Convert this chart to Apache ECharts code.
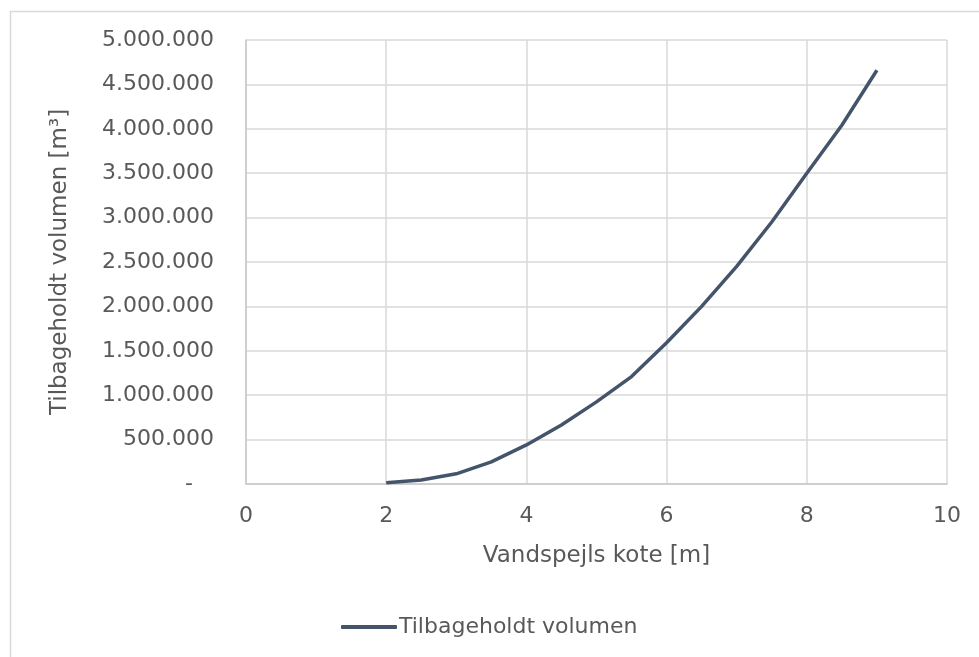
<!DOCTYPE html>
<html>
<head>
<meta charset="utf-8">
<script src="https://cdn.jsdelivr.net/npm/echarts@6/dist/echarts.min.js"></script>
<style>
html,body{margin:0;padding:0;background:#fff;}
#chart{width:979px;height:657px;}
</style>
</head>
<body>
<div id="chart"></div>
<script>
// Data
const koter = [2, 2.5, 3, 3.5, 4, 4.5, 5, 5.5, 6, 6.5, 7, 7.5, 8, 8.5, 9];
const volumen = [15000, 45000, 115000, 250000, 440000, 665000, 925000, 1210000, 1590000, 2000000, 2450000, 2950000, 3500000, 4040000, 4660000];
const seriesName = 'Tilbageholdt volumen';
const xAxisTitle = 'Vandspejls kote [m]';
const yAxisTitle = 'Tilbageholdt volumen [m³]';

function fmtDK(v) {
  if (v === 0) return '-   ';
  return String(Math.round(v)).replace(/\B(?=(\d{3})+(?!\d))/g, '.');
}

const FONT = 'DejaVu Sans';
const TXT = '#595959';

const chart = echarts.init(document.getElementById('chart'), null, {renderer: 'canvas'});
chart.setOption({
  animation: false,
  backgroundColor: '#ffffff',
  textStyle: {fontFamily: FONT},
  graphic: [{
    type: 'rect', left: 8, top: 9, silent: true,
    shape: {width: 1100, height: 800},
    style: {fill: 'none', stroke: '#d9d9d9', lineWidth: 1.5}
  }],
  grid: {left: 246, right: 32, top: 40, bottom: 173, containLabel: false},
  xAxis: {
    type: 'value', min: 0, max: 10, interval: 2,
    name: xAxisTitle, nameLocation: 'middle', nameGap: 61,
    nameTextStyle: {color: TXT, fontSize: 23, fontFamily: FONT},
    axisLine: {show: true, lineStyle: {color: '#c8c8c8', width: 1.5}},
    axisTick: {show: false},
    axisLabel: {color: TXT, fontSize: 22, fontFamily: FONT, margin: 21},
    splitLine: {show: true, lineStyle: {color: '#d9d9d9', width: 1.5}}
  },
  yAxis: {
    type: 'value', min: 0, max: 5000000, interval: 500000,
    name: yAxisTitle, nameLocation: 'middle', nameGap: 174, nameRotate: 90,
    nameTextStyle: {color: TXT, fontSize: 23, fontFamily: FONT},
    axisLine: {show: true, lineStyle: {color: '#c8c8c8', width: 1.5}},
    axisTick: {show: false},
    axisLabel: {color: TXT, fontSize: 22, fontFamily: FONT, margin: 32, formatter: fmtDK},
    splitLine: {show: true, lineStyle: {color: '#d9d9d9', width: 1.5}}
  },
  legend: {
    show: true, left: 336, top: 611,
    itemWidth: 56, itemHeight: 4, itemGap: 10,
    textStyle: {color: TXT, fontSize: 22, fontFamily: FONT, padding: [0,0,0,-3]},
    data: [{name: seriesName, icon: 'roundRect', itemStyle: {color: '#44546A'}}]
  },
  series: [{
    name: seriesName, type: 'line',
    data: koter.map((k, i) => [k, volumen[i]]),
    showSymbol: false, symbol: 'none', smooth: false,
    lineStyle: {color: '#44546A', width: 3.5},
    itemStyle: {color: '#44546A'}
  }]
});
</script>
</body>
</html>
